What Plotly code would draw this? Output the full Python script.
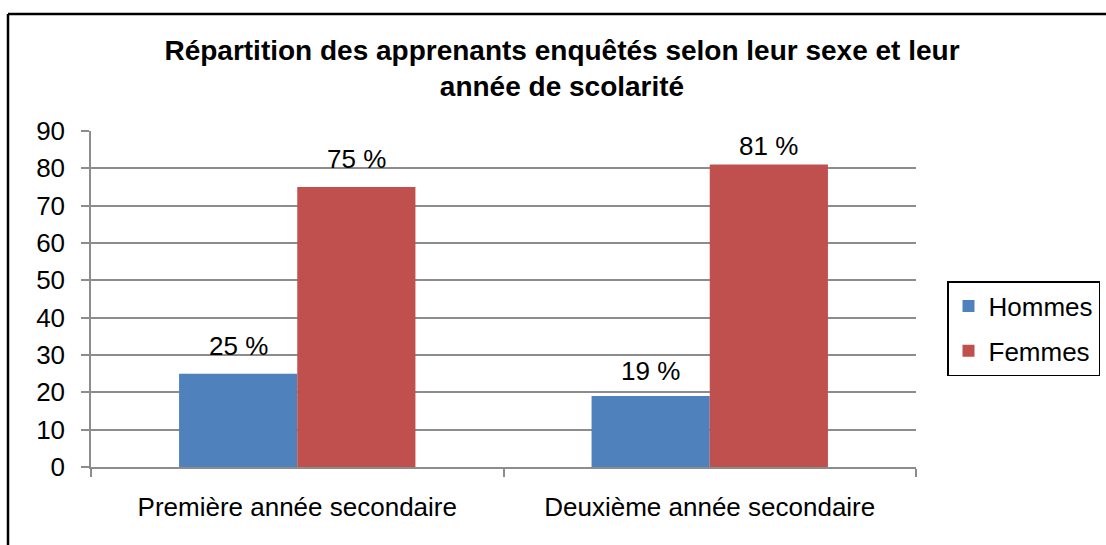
import plotly.graph_objects as go

categories = ["Première année secondaire", "Deuxième année secondaire"]
hommes = [25, 19]
femmes = [75, 81]
hommes_labels = ["25 %", "19 %"]
femmes_labels = ["75 %", "81 %"]
y_ticks = [0, 10, 20, 30, 40, 50, 60, 70, 80, 90]

W, H = 1106, 545
L, R, T, B = 91, 916, 131, 467  # plot area in pixels
FONT = "Liberation Sans, Arial, sans-serif"
BLUE = "#4F81BD"
RED = "#C0504D"
GRID = "#8C8C8C"
BARGAP = 0.427

def px_x(p):
    return (p - L) / (R - L)

def px_y(p):
    return (B - p) / (B - T)

fig = go.Figure()
fig.add_trace(go.Bar(name="Hommes", x=categories, y=hommes, marker=dict(color=BLUE, line=dict(width=0)), legendgroup="h"))
fig.add_trace(go.Bar(name="Femmes", x=categories, y=femmes, marker=dict(color=RED, line=dict(width=0)), legendgroup="f"))

half = (1 - BARGAP) / 4
h_shift = [28, 25]
f_shift = [28, 19]
for i, (v, t) in enumerate(zip(hommes, hommes_labels)):
    fig.add_annotation(x=i - half, y=v, xref="x", yref="y", text=t, showarrow=False,
                       yanchor="middle", yshift=h_shift[i], font=dict(family=FONT, size=26, color="black"))
for i, (v, t) in enumerate(zip(femmes, femmes_labels)):
    fig.add_annotation(x=i + half, y=v, xref="x", yref="y", text=t, showarrow=False,
                       yanchor="middle", yshift=f_shift[i], font=dict(family=FONT, size=26, color="black"))

# outer frame (left and top edges)
fig.add_shape(type="line", xref="paper", yref="paper", x0=px_x(8), x1=px_x(8), y0=px_y(14), y1=px_y(560),
              line=dict(color="black", width=2.5))
fig.add_shape(type="line", xref="paper", yref="paper", x0=px_x(8), x1=px_x(1120), y0=px_y(14), y1=px_y(14),
              line=dict(color="black", width=2.5))

fig.update_layout(
    width=W, height=H,
    margin=dict(l=L, r=W - R, t=T, b=H - B, pad=0, autoexpand=False),
    paper_bgcolor="white", plot_bgcolor="white",
    barmode="group", bargap=BARGAP, bargroupgap=0,
    font=dict(family=FONT, size=26, color="black"),
    title=dict(text="<b>Répartition des apprenants enquêtés selon leur sexe et leur<br>année de scolarité</b>",
               x=562 / W, xanchor="center", y=1 - 60 / H, yanchor="middle",
               font=dict(family=FONT, size=28, color="black")),
    showlegend=True,
    legend=dict(x=px_x(947), y=px_y(281), xanchor="left", yanchor="top",
                bordercolor="black", borderwidth=1.5, bgcolor="white",
                font=dict(family=FONT, size=26, color="black"),
                tracegroupgap=8, traceorder="grouped"),
    xaxis=dict(showline=True, linecolor=GRID, linewidth=1.5, ticks="outside", tickson="boundaries",
               ticklen=8, tickcolor=GRID, tickwidth=1.5, showgrid=False, ticklabelstandoff=16,
               tickfont=dict(family=FONT, size=26, color="black")),
    yaxis=dict(range=[0, 90], tickvals=y_ticks, showline=True, linecolor=GRID, linewidth=1.5,
               ticks="outside", ticklen=8, tickcolor=GRID, tickwidth=1.5,
               showgrid=True, gridcolor=GRID, gridwidth=1.5, zeroline=False, ticklabelstandoff=11,
               tickfont=dict(family=FONT, size=26, color="black")),
)

fig.write_html("out.html", config={"displayModeBar": False},
               post_script="document.body.style.margin='0';document.body.style.overflow='hidden';")
